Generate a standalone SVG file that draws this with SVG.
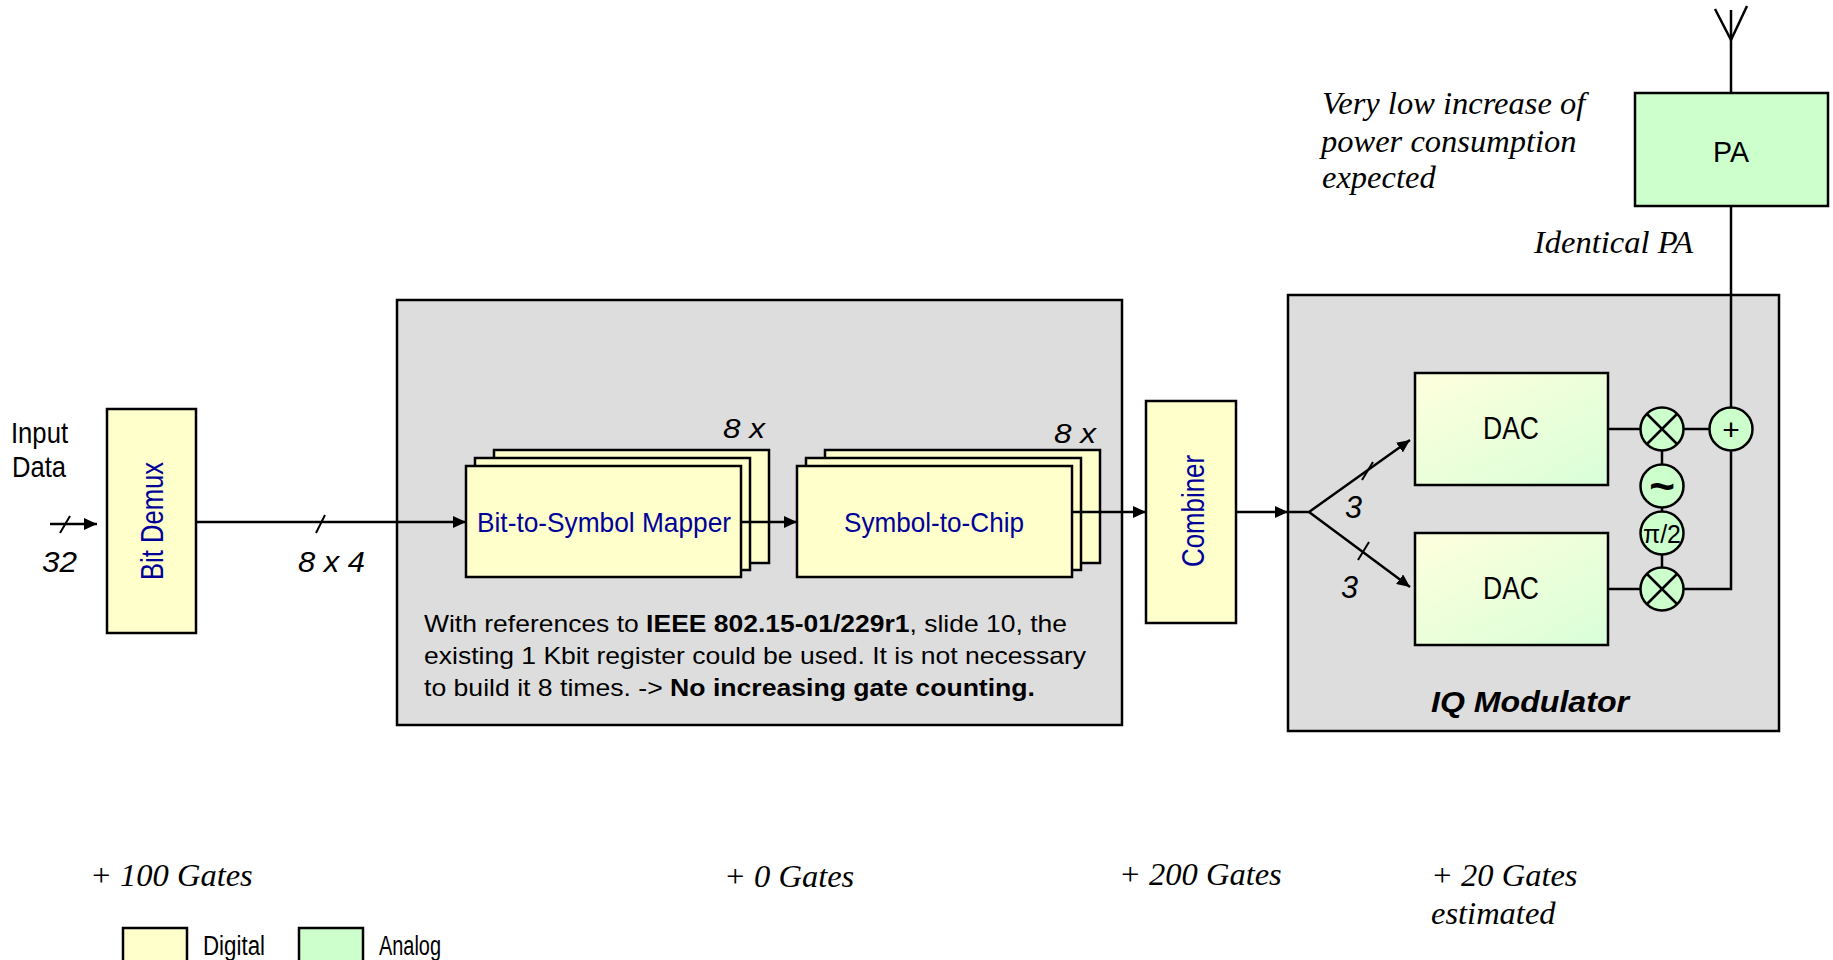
<svg xmlns="http://www.w3.org/2000/svg" width="1833" height="960" viewBox="0 0 1833 960">
<style>
.bg{fill:#ffffff}
.grp{fill:#dddddd;stroke:#000;stroke-width:2.5}
.dig{fill:#ffffcc;stroke:#000;stroke-width:2.5}
.ana{fill:#ccffcc;stroke:#000;stroke-width:2.5}
.dac{fill:url(#dacg);stroke:#000;stroke-width:2.5}
.ln{fill:none;stroke:#000;stroke-width:2.5}
.thin{fill:none;stroke:#000;stroke-width:2}
.sans{font-family:"Liberation Sans",Arial,sans-serif}
.blue{fill:#000099}
.blk{fill:#000}
.ser{font-family:"Liberation Serif","Times New Roman",serif;font-style:italic;font-size:32.5px;fill:#000}
.it{font-style:italic}
</style>
<defs>
<linearGradient id="dacg" x1="0" y1="0" x2="1" y2="1">
<stop offset="0" stop-color="#ffffdd"/>
<stop offset="1" stop-color="#d8ffd8"/>
</linearGradient>
<marker id="arr" markerUnits="userSpaceOnUse" markerWidth="14" markerHeight="12" refX="13" refY="6" orient="auto">
<path d="M0,0 L13,6 L0,12 Z" fill="#000"/>
</marker>
</defs>
<rect class="bg" x="0" y="0" width="1833" height="960"/>

<g id="group-coding">
<rect class="grp" x="397" y="300" width="725" height="425"/>
<text class="sans blk" font-size="24" y="632"><tspan x="424" textLength="643" lengthAdjust="spacingAndGlyphs">With references to <tspan font-weight="bold">IEEE 802.15-01/229r1</tspan>, slide 10, the</tspan></text>
<text class="sans blk" font-size="24" x="424" y="664" textLength="662" lengthAdjust="spacingAndGlyphs">existing 1 Kbit register could be used. It is not necessary</text>
<text class="sans blk" font-size="24" y="696"><tspan x="424" textLength="611" lengthAdjust="spacingAndGlyphs">to build it 8 times. -&gt; <tspan font-weight="bold">No increasing gate counting.</tspan></tspan></text>
</g>

<g id="group-iq">
<rect class="grp" x="1288" y="295" width="491" height="436"/>
<text class="sans blk" font-size="29" font-weight="bold" font-style="italic" x="1431" y="712" textLength="198" lengthAdjust="spacingAndGlyphs">IQ Modulator</text>
</g>

<g id="input-label">
<text class="sans blk" font-size="29" x="11" y="443" textLength="57" lengthAdjust="spacingAndGlyphs">Input</text>
<text class="sans blk" font-size="29" x="12" y="477" textLength="54" lengthAdjust="spacingAndGlyphs">Data</text>
<text class="sans blk it" font-size="30" x="42" y="572" textLength="35" lengthAdjust="spacingAndGlyphs">32</text>
</g>

<g id="bit-demux">
<rect class="dig" x="107" y="409" width="89" height="224"/>
<text class="sans blue" font-size="32" text-anchor="middle" transform="translate(163,521) rotate(-90)" textLength="118" lengthAdjust="spacingAndGlyphs">Bit Demux</text>
</g>

<g id="mapper">
<rect class="dig" x="494" y="450" width="275" height="113"/>
<rect class="dig" x="475" y="458" width="275" height="112"/>
<rect class="dig" x="466" y="466" width="275" height="111"/>
<text class="sans blue" font-size="28" x="477" y="532" textLength="254" lengthAdjust="spacingAndGlyphs">Bit-to-Symbol Mapper</text>
<text class="sans blk it" font-size="28" x="723" y="438" textLength="42" lengthAdjust="spacingAndGlyphs">8 x</text>
</g>

<g id="symbol-to-chip">
<rect class="dig" x="825" y="450" width="275" height="113"/>
<rect class="dig" x="806" y="458" width="275" height="112"/>
<rect class="dig" x="797" y="466" width="275" height="111"/>
<text class="sans blue" font-size="28" x="844" y="532" textLength="180" lengthAdjust="spacingAndGlyphs">Symbol-to-Chip</text>
<text class="sans blk it" font-size="28" x="1054" y="443" textLength="42" lengthAdjust="spacingAndGlyphs">8 x</text>
</g>

<g id="combiner">
<rect class="dig" x="1146" y="401" width="90" height="222"/>
<text class="sans blue" font-size="32" text-anchor="middle" transform="translate(1204,511) rotate(-90)" textLength="112" lengthAdjust="spacingAndGlyphs">Combiner</text>
</g>

<g id="dac-i">
<rect class="dac" x="1415" y="373" width="193" height="112"/>
<text class="sans blk" font-size="31" x="1483" y="439" textLength="56" lengthAdjust="spacingAndGlyphs">DAC</text>
</g>
<g id="dac-q">
<rect class="dac" x="1415" y="533" width="193" height="112"/>
<text class="sans blk" font-size="31" x="1483" y="599" textLength="56" lengthAdjust="spacingAndGlyphs">DAC</text>
</g>

<g id="pa">
<rect class="ana" x="1635" y="93" width="193" height="113"/>
<text class="sans blk" font-size="29" x="1713" y="162" textLength="36" lengthAdjust="spacingAndGlyphs">PA</text>
</g>

<g id="connectors">
<line class="ln" x1="50" y1="524" x2="97" y2="524" marker-end="url(#arr)"/>
<line class="thin" x1="60" y1="533" x2="70" y2="516"/>
<line class="ln" x1="196" y1="522" x2="466" y2="522" marker-end="url(#arr)"/>
<line class="thin" x1="316" y1="533" x2="325" y2="515"/>
<line class="ln" x1="741" y1="522" x2="797" y2="522" marker-end="url(#arr)"/>
<line class="ln" x1="1072" y1="512" x2="1146" y2="512" marker-end="url(#arr)"/>
<line class="ln" x1="1236" y1="512" x2="1288" y2="512" marker-end="url(#arr)"/>
<polyline class="ln" points="1288,512 1309,512 1410,440" marker-end="url(#arr)"/>
<polyline class="ln" points="1309,512 1410,587" marker-end="url(#arr)"/>
<line class="thin" x1="1362" y1="480" x2="1373" y2="462"/>
<line class="thin" x1="1358" y1="560" x2="1369" y2="542"/>
<line class="ln" x1="1608" y1="429" x2="1641" y2="429"/>
<line class="ln" x1="1683" y1="429" x2="1710" y2="429"/>
<line class="ln" x1="1608" y1="589" x2="1641" y2="589"/>
<polyline class="ln" points="1683,589 1731,589 1731,450"/>
<line class="ln" x1="1731" y1="408" x2="1731" y2="206"/>
<line class="ln" x1="1662" y1="450" x2="1662" y2="465"/>
<line class="ln" x1="1662" y1="507" x2="1662" y2="512"/>
<line class="ln" x1="1662" y1="554" x2="1662" y2="568"/>
<line class="ln" x1="1731" y1="93" x2="1731" y2="10"/>
<polyline class="ln" points="1715,9 1731,40 1747,6"/>
</g>

<g id="mixer-i">
<circle class="ana" cx="1662" cy="429" r="21.5"/>
<line class="ln" x1="1647" y1="414" x2="1677" y2="444"/>
<line class="ln" x1="1677" y1="414" x2="1647" y2="444"/>
</g>
<g id="oscillator">
<circle class="ana" cx="1662" cy="486" r="21.5"/>
<text class="sans blk" font-size="44" font-weight="bold" text-anchor="middle" x="1662" y="501">~</text>
</g>
<g id="phase-shift">
<circle class="ana" cx="1662" cy="533" r="21.5"/>
<text class="sans blk" font-size="25" x="1643" y="543" textLength="38" lengthAdjust="spacingAndGlyphs">π/2</text>
</g>
<g id="mixer-q">
<circle class="ana" cx="1662" cy="589" r="21.5"/>
<line class="ln" x1="1647" y1="574" x2="1677" y2="604"/>
<line class="ln" x1="1677" y1="574" x2="1647" y2="604"/>
</g>
<g id="adder">
<circle class="ana" cx="1731" cy="429" r="21.5"/>
<text class="sans blk" font-size="30" text-anchor="middle" x="1731" y="440">+</text>
</g>

<g id="labels">
<text class="sans blk it" font-size="30" x="298" y="572" textLength="67" lengthAdjust="spacingAndGlyphs">8 x 4</text>
<text class="sans blk it" font-size="31" x="1345" y="518" textLength="17" lengthAdjust="spacingAndGlyphs">3</text>
<text class="sans blk it" font-size="31" x="1341" y="598" textLength="17" lengthAdjust="spacingAndGlyphs">3</text>
<text class="ser" x="1322" y="114">Very low increase of</text>
<text class="ser" x="1321" y="152">power consumption</text>
<text class="ser" x="1322" y="188">expected</text>
<text class="ser" x="1534" y="253">Identical PA</text>
<text class="ser" x="90" y="886">+ 100 Gates</text>
<text class="ser" x="724" y="887">+ 0 Gates</text>
<text class="ser" x="1119" y="885">+ 200 Gates</text>
<text class="ser" x="1431" y="886">+ 20 Gates</text>
<text class="ser" x="1431" y="924">estimated</text>
</g>

<g id="legend">
<rect class="dig" x="123" y="928" width="64" height="40"/>
<text class="sans blk" font-size="27" x="203" y="955" textLength="62" lengthAdjust="spacingAndGlyphs">Digital</text>
<rect class="ana" x="299" y="928" width="64" height="40"/>
<text class="sans blk" font-size="27" x="379" y="955" textLength="62" lengthAdjust="spacingAndGlyphs">Analog</text>
</g>
</svg>
